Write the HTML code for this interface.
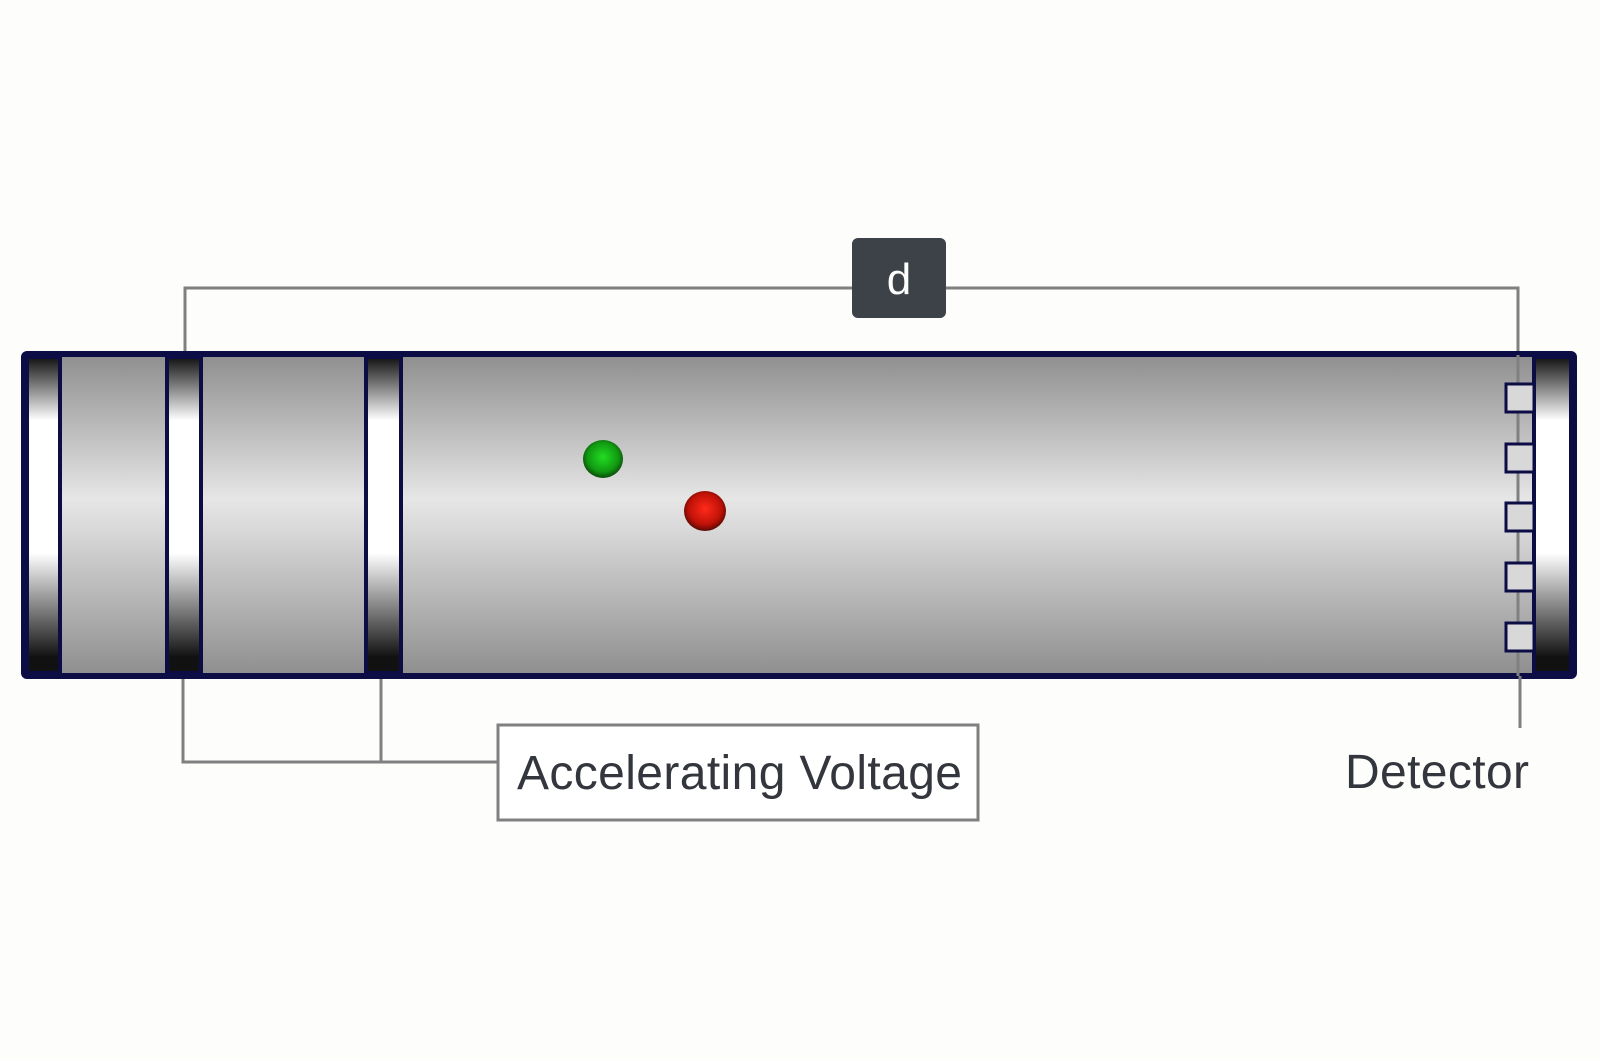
<!DOCTYPE html>
<html><head><meta charset="utf-8"><style>
html,body{margin:0;padding:0;background:#fdfdfc;}
svg{display:block}
</style></head><body>
<svg width="1600" height="1060" viewBox="0 0 1600 1060" xmlns="http://www.w3.org/2000/svg">
<defs>
<linearGradient id="tube" x1="0" y1="0" x2="0" y2="1">
<stop offset="0" stop-color="#8e8e8e"/>
<stop offset="0.45" stop-color="#e6e6e6"/>
<stop offset="0.55" stop-color="#d8d8d8"/>
<stop offset="1" stop-color="#8e8e8e"/>
</linearGradient>
<linearGradient id="band" x1="0" y1="0" x2="0" y2="1">
<stop offset="0" stop-color="#111"/>
<stop offset="0.2" stop-color="#fff"/>
<stop offset="0.62" stop-color="#fff"/>
<stop offset="0.95" stop-color="#111"/>
</linearGradient>
<radialGradient id="g" cx="0.5" cy="0.45" r="0.55">
<stop offset="0" stop-color="#22dd22"/><stop offset="0.7" stop-color="#119911"/><stop offset="1" stop-color="#0a4a0a"/>
</radialGradient>
<radialGradient id="r" cx="0.5" cy="0.45" r="0.55">
<stop offset="0" stop-color="#ff2a1a"/><stop offset="0.7" stop-color="#c01208"/><stop offset="1" stop-color="#5a0a05"/>
</radialGradient>
</defs>
<!-- dimension line -->
<polyline points="185,355 185,288 1518,288 1518,355" fill="none" stroke="#808080" stroke-width="3"/>
<!-- tube -->
<rect x="24" y="354" width="1550" height="322" rx="3" fill="url(#tube)" stroke="#0d0d45" stroke-width="6"/>
<rect x="27" y="357" width="33" height="316" fill="url(#band)" stroke="#0d0d45" stroke-width="4"/>
<rect x="167" y="357" width="34" height="316" fill="url(#band)" stroke="#0d0d45" stroke-width="4"/>
<rect x="366" y="357" width="35" height="316" fill="url(#band)" stroke="#0d0d45" stroke-width="4"/>
<rect x="1534" y="357" width="37" height="316" fill="url(#band)" stroke="#0d0d45" stroke-width="4"/>
<!-- detector line inside -->
<line x1="1518" y1="355" x2="1518" y2="676" stroke="#808080" stroke-width="3"/>
<g fill="#d8d8d8" stroke="#0d0d45" stroke-width="3">
<rect x="1506" y="384" width="28" height="28"/>
<rect x="1506" y="444" width="28" height="28"/>
<rect x="1506" y="503" width="28" height="28"/>
<rect x="1506" y="563" width="28" height="28"/>
<rect x="1506" y="623" width="28" height="28"/>
</g>
<!-- balls -->
<ellipse cx="603" cy="459" rx="20" ry="19" fill="url(#g)"/>
<ellipse cx="705" cy="511" rx="21" ry="20" fill="url(#r)"/>
<!-- d box -->
<rect x="852" y="238" width="94" height="80" rx="6" fill="#3d4148"/>
<text x="899" y="294" font-family="Liberation Sans, sans-serif" font-size="44" fill="#fff" text-anchor="middle">d</text>
<!-- accelerating voltage -->
<polyline points="183,679 183,762 498,762" fill="none" stroke="#808080" stroke-width="3"/>
<line x1="381" y1="679" x2="381" y2="762" stroke="#808080" stroke-width="3"/>
<rect x="498" y="725" width="480" height="95" fill="#fff" stroke="#808080" stroke-width="3"/>
<text x="517" y="789" font-family="Liberation Sans, sans-serif" font-size="48" fill="#33363c" textLength="445">Accelerating Voltage</text>
<!-- detector -->
<line x1="1520" y1="676" x2="1520" y2="728" stroke="#808080" stroke-width="3"/>
<text x="1345" y="788" font-family="Liberation Sans, sans-serif" font-size="48" fill="#33363c" textLength="184">Detector</text>
</svg>
</body></html>
